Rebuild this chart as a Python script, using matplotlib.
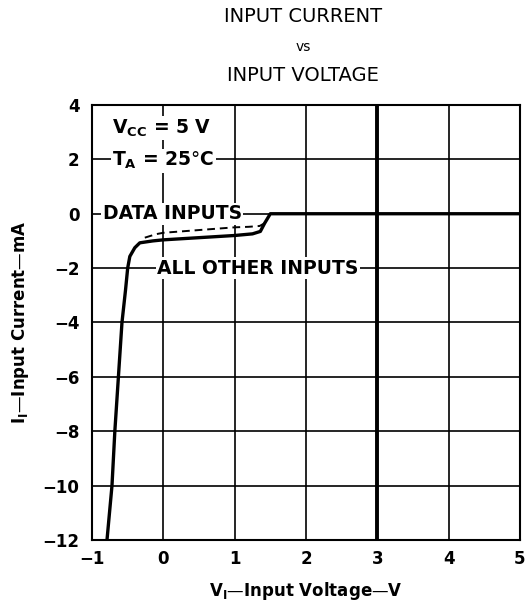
import numpy as np
import matplotlib.pyplot as plt

# curve points (V, mA)
v_other = [-0.79, -0.72, -0.68, -0.63, -0.58, -0.53, -0.50, -0.47, -0.40, -0.33, -0.15, 0.0, 0.5, 1.0, 1.25, 1.36, 1.42, 1.50, 5.0]
i_other = [-12.0, -10.0, -8.0, -6.0, -4.0, -2.8, -2.0, -1.57, -1.25, -1.07, -1.0, -0.96, -0.88, -0.80, -0.74, -0.65, -0.35, 0.0, 0.0]

v_data = [-0.26, -0.1, 0.0, 0.5, 1.0, 1.2, 1.35, 1.42]
i_data = [-0.88, -0.75, -0.70, -0.60, -0.50, -0.48, -0.45, -0.35]

xticks = [-1, 0, 1, 2, 3, 4, 5]
yticks = [4, 2, 0, -2, -4, -6, -8, -10, -12]
xlabels = ['\u22121', '0', '1', '2', '3', '4', '5']
ylabels = ['4', '2', '0', '\u22122', '\u22124', '\u22126', '\u22128', '\u221210', '\u221212']

plt.rcParams['font.family'] = ['DejaVu Sans']

fig = plt.figure(figsize=(5.27, 6.02), dpi=100)
ax = fig.add_axes([0.1746, 0.103, 0.8121, 0.7226])

for x in xticks:
    ax.axvline(x, color='black', lw=1.2, zorder=1)
for y in yticks:
    ax.axhline(y, color='black', lw=1.2, zorder=1)
ax.axvline(3, color='black', lw=2.8, zorder=2)

ax.plot(v_other, i_other, color='black', lw=2.4, zorder=4, solid_capstyle='butt')
ax.plot(v_data, i_data, color='black', lw=1.4, ls=(0, (4, 2.5)), zorder=4)

box = dict(facecolor='white', edgecolor='none', pad=1.0)
tkw = dict(fontsize=13.5, fontweight='bold', va='center', ha='left', bbox=box, zorder=5)
ax.text(-0.72, 3.15, r'V$_{\mathregular{CC}}$ = 5 V', **tkw)
ax.text(-0.72, 1.95, r'T$_{\mathregular{A}}$ = 25$\degree$C', **tkw)
ax.text(-0.85, 0.0, 'DATA INPUTS', **tkw)
ax.text(-0.09, -2.0, 'ALL OTHER INPUTS', **tkw)

ax.set_xlim(-1, 5)
ax.set_ylim(-12, 4)
ax.set_xticks(xticks)
ax.set_yticks(yticks)
ax.set_xticklabels(xlabels, fontsize=12, fontweight='bold')
ax.set_yticklabels(ylabels, fontsize=12, fontweight='bold')
ax.tick_params(axis='y', length=0, pad=9)
ax.tick_params(axis='x', length=0, pad=7)
for s in ax.spines.values():
    s.set_linewidth(1.5)

ax.set_xlabel('V$_{\\mathregular{I}}$\u2014Input Voltage\u2014V', fontsize=12, fontweight='bold', labelpad=9)
ax.set_ylabel('I$_{\\mathregular{I}}$\u2014Input Current\u2014mA', fontsize=12, fontweight='bold', labelpad=8)

fig.text(0.575, 0.972, 'INPUT CURRENT', ha='center', va='center', fontsize=14)
fig.text(0.575, 0.922, 'vs', ha='center', va='center', fontsize=10)
fig.text(0.575, 0.875, 'INPUT VOLTAGE', ha='center', va='center', fontsize=14)

fig.savefig('out.png', dpi=100)
